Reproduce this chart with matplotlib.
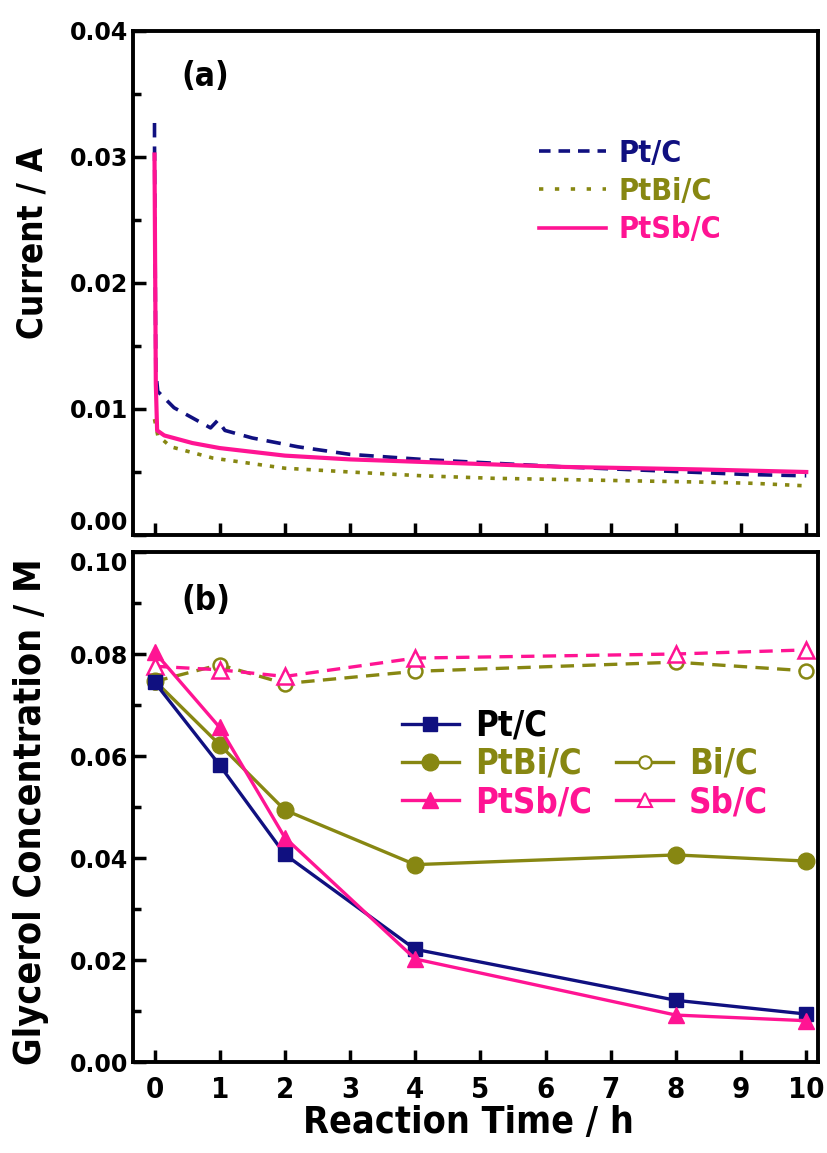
import numpy as np
import matplotlib
matplotlib.use("Agg")
import matplotlib.pyplot as plt
from matplotlib.lines import Line2D
from matplotlib.ticker import MultipleLocator

NAVY = "#101080"
OLIVE = "#878712"
PINK = "#ff1493"
NARROW = dict(family="DejaVu Sans", stretch="condensed", weight="bold")

# (a) chronoamperometry, current in A vs time in h
t_pt = [0.0, 0.0, 0.02, 0.05, 0.3, 0.58, 0.86, 0.97, 1.08, 1.5, 2.2, 3.0, 4.1, 5.2, 6.3, 7.7, 9.1, 10.0]
i_pt = [0.0327, 0.0312, 0.0130, 0.0114, 0.0101, 0.0093, 0.0085, 0.0091, 0.0083, 0.0077, 0.0070,
        0.0064, 0.0060, 0.0057, 0.0054, 0.0051, 0.0048, 0.0047]
t_bi = [0.0, 0.05, 0.25, 0.9, 2.0, 3.0, 4.1, 5.2, 6.3, 7.3, 8.4, 9.2, 10.0]
i_bi = [0.0092, 0.0079, 0.0070, 0.0061, 0.0053, 0.0050, 0.0047, 0.0045, 0.0044, 0.0043, 0.0042,
        0.0041, 0.0039]
t_sb = [0.0, 0.02, 0.04, 0.15, 0.58, 1.0, 1.5, 2.0, 3.0, 4.1, 5.2, 6.3, 7.4, 8.4, 9.2, 10.0]
i_sb = [0.0302, 0.0120, 0.0083, 0.0079, 0.0073, 0.0069, 0.0066, 0.0063, 0.0060, 0.0058, 0.0056,
        0.0054, 0.0053, 0.0052, 0.0051, 0.0050]

# (b) glycerol concentration in M
hours = [0, 1, 2, 4, 8, 10]
c_pt = [0.0745, 0.0582, 0.0407, 0.0221, 0.0121, 0.0094]
c_ptbi = [0.0748, 0.0622, 0.0494, 0.0387, 0.0406, 0.0394]
c_ptsb = [0.0804, 0.0656, 0.0440, 0.0202, 0.0092, 0.0081]
c_bi = [0.0746, 0.0779, 0.0742, 0.0766, 0.0784, 0.0767]
c_sb = [0.0776, 0.0769, 0.0756, 0.0792, 0.0800, 0.0808]

fig = plt.figure(figsize=(8.27, 11.53), dpi=100)
W, H = 827, 1153
ax1 = fig.add_axes([133 / W, 1 - 535 / H, (818 - 133) / W, (535 - 31) / H])
ax2 = fig.add_axes([133 / W, 1 - 1062 / H, (818 - 133) / W, (1062 - 552) / H])

ax1.plot(t_pt, i_pt, color=NAVY, lw=2.6, ls=(0, (4, 2.5)))
ax1.plot(t_bi, i_bi, color=OLIVE, lw=2.6, ls=(0, (1.2, 2.2)))
ax1.plot(t_sb, i_sb, color=PINK, lw=3.0)

ax2.plot(hours, c_bi, color=OLIVE, lw=2.4, ls=(0, (4, 2.5)), marker="o", ms=10,
         mfc="white", mec=OLIVE, mew=1.8)
ax2.plot(hours, c_sb, color=PINK, lw=2.4, ls=(0, (4, 2.5)), marker="^", ms=11,
         mfc="white", mec=PINK, mew=1.8)
ax2.plot(hours, c_ptbi, color=OLIVE, lw=2.4, marker="o", ms=12)
ax2.plot(hours, c_pt, color=NAVY, lw=2.4, marker="s", ms=10)
ax2.plot(hours, c_ptsb, color=PINK, lw=2.4, marker="^", ms=12)

for ax in (ax1, ax2):
    ax.set_xlim(-0.33, 10.18)
    ax.xaxis.set_major_locator(MultipleLocator(1))
    for s in ax.spines.values():
        s.set_linewidth(2.8)
    ax.tick_params(which="both", direction="in", width=2.5, top=False, right=False)
    ax.tick_params(which="major", length=9)
    ax.tick_params(which="minor", length=6)

ax1.set_ylim(0, 0.04)
ax1.yaxis.set_minor_locator(MultipleLocator(0.005))
ax1.set_yticks([0, 0.01, 0.02, 0.03, 0.04], ["0.00", "0.01", "0.02", "0.03", "0.04"],
               fontsize=17, fontweight="bold")
ax1.get_yticklabels()[0].set_va("bottom")
ax1.tick_params(axis="x", labelbottom=False)

ax2.set_ylim(0, 0.10)
ax2.yaxis.set_minor_locator(MultipleLocator(0.01))
ax2.set_yticks([0, 0.02, 0.04, 0.06, 0.08, 0.10],
               ["0.00", "0.02", "0.04", "0.06", "0.08", "0.10"], fontsize=17, fontweight="bold")
ax2.get_yticklabels()[-1].set_va("top")
ax2.set_xticks(range(11), [str(i) for i in range(11)], fontsize=21, **NARROW)
ax2.tick_params(axis="x", pad=10)

ax1.set_ylabel("Current / A", fontsize=25, **NARROW)
ax2.set_ylabel("Glycerol Concentration / M", fontsize=27, **NARROW)
ax1.yaxis.set_label_coords(-0.122, 0.58)
ax2.yaxis.set_label_coords(-0.122, 0.49)
ax2.set_xlabel("Reaction Time / h", fontsize=27, labelpad=4, **NARROW)
ax2.xaxis.set_label_coords(0.49, -0.085)

ax1.text(0.07, 0.91, "(a)", transform=ax1.transAxes, fontsize=24, va="center", **NARROW)
ax2.text(0.07, 0.905, "(b)", transform=ax2.transAxes, fontsize=24, va="center", **NARROW)

# legend (a)
h1 = [Line2D([], [], color=NAVY, lw=2.6, ls=(0, (3.2, 2.2))),
      Line2D([], [], color=OLIVE, lw=2.6, ls=(0, (1.2, 3.2))),
      Line2D([], [], color=PINK, lw=2.6)]
leg1 = ax1.legend(h1, ["Pt/C", "PtBi/C", "PtSb/C"], loc="upper left",
                  bbox_to_anchor=(0.575, 0.81), frameon=False, handlelength=2.2,
                  labelspacing=0.3, handletextpad=0.4, borderaxespad=0,
                  prop=dict(size=22, **NARROW))
for txt, c in zip(leg1.get_texts(), [NAVY, OLIVE, PINK]):
    txt.set_color(c)

# legend (b)
h2 = [Line2D([], [], color=NAVY, lw=2.4, marker="s", ms=10),
      Line2D([], [], color=OLIVE, lw=2.4, marker="o", ms=12),
      Line2D([], [], color=PINK, lw=2.4, marker="^", ms=12),
      Line2D([], [], alpha=0),
      Line2D([], [], color=OLIVE, lw=2.4, marker="o", ms=9, mfc="white", mew=1.5),
      Line2D([], [], color=PINK, lw=2.4, marker="^", ms=10, mfc="white", mew=1.5)]
leg2 = ax2.legend(h2, ["Pt/C", "PtBi/C", "PtSb/C", " ", "Bi/C", "Sb/C"], ncol=2,
                  loc="upper left", bbox_to_anchor=(0.372, 0.72), frameon=False,
                  handlelength=1.65, labelspacing=0.12, handletextpad=0.45, columnspacing=0.7,
                  borderaxespad=0, prop=dict(size=25, **NARROW))
for txt, c in zip(leg2.get_texts(), ["black", OLIVE, PINK, "black", OLIVE, PINK]):
    txt.set_color(c)

fig.savefig("out.png", dpi=100)
